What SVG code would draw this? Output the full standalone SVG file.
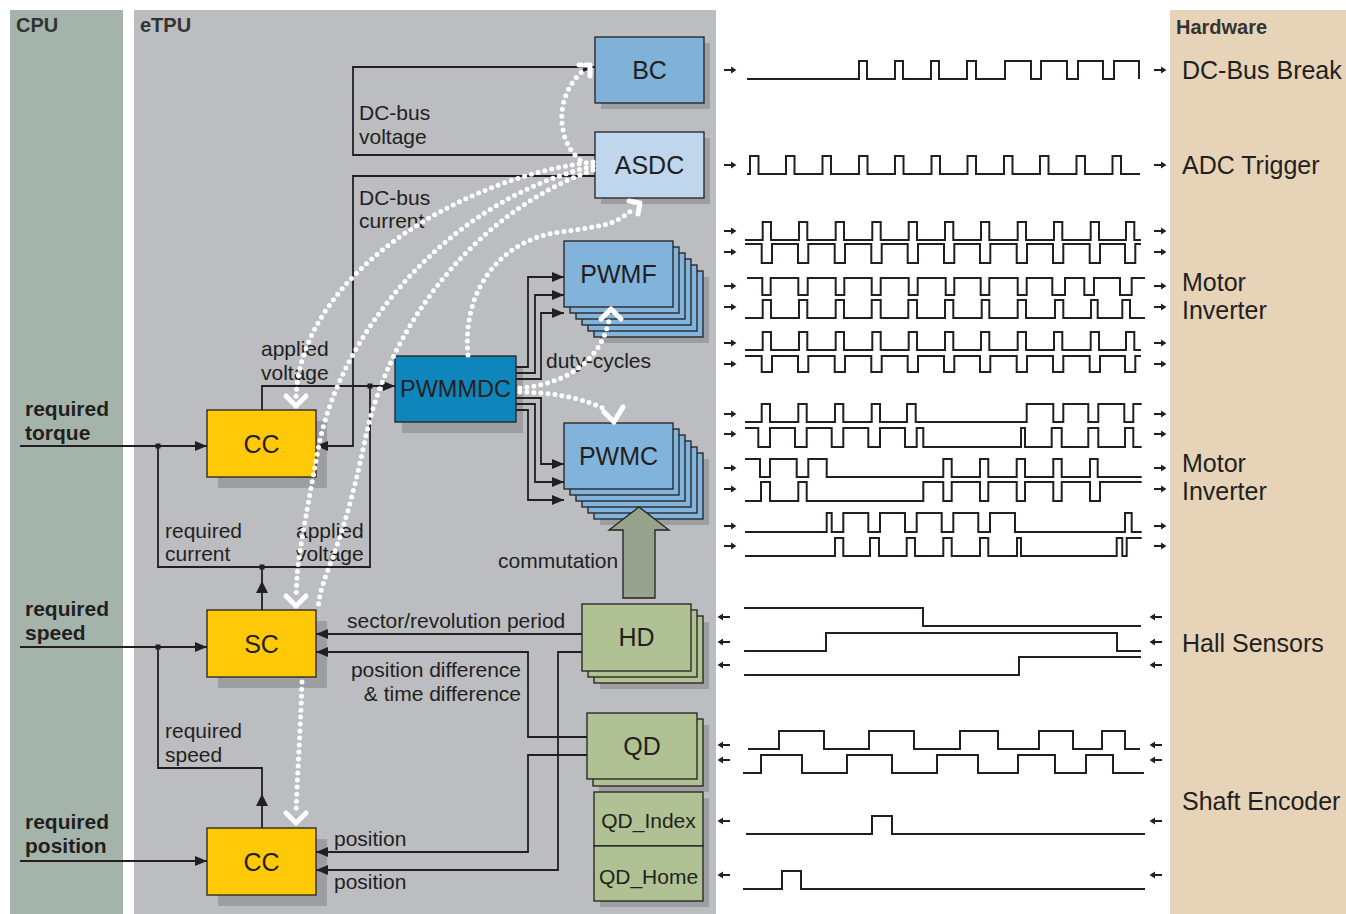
<svg xmlns="http://www.w3.org/2000/svg" xmlns:xlink="http://www.w3.org/1999/xlink" width="1346" height="914" viewBox="0 0 1346 914">
<style>
text{font-family:"Liberation Sans",Arial,sans-serif;fill:#231f20}
.hdr{font-size:20px;font-weight:bold;fill:#333}
.req{font-size:21px;font-weight:bold}
.lbl{font-size:21px}
.hw{font-size:25px}
.nt{font-size:25px;text-anchor:middle}
.ln{fill:none;stroke:#231f20;stroke-width:1.8}
.wv{fill:none;stroke:#231f20;stroke-width:2}
.sh{fill:#9d9ea2}
.bx{stroke:#231f20;stroke-width:1.3}
.blue{fill:#82b3da}
.yel{fill:#ffc907}
.grn{fill:#b0c293}
.dot{fill:none;stroke:#fff;stroke-width:5;stroke-linecap:round;stroke-dasharray:0 7}
.chev{fill:none;stroke:#fff;stroke-width:5;stroke-linecap:round;stroke-linejoin:round}
.sa{fill:#231f20}
</style>
<defs>
<marker id="ah" viewBox="0 0 12 10" refX="12" refY="5" markerWidth="12" markerHeight="10" markerUnits="userSpaceOnUse" orient="auto">
<path d="M0,0 L12,5 L0,10 Z" fill="#231f20"/>
</marker>
<path id="sar" class="sa" d="M-6,-1 H1 V-3.5 L6.5,0 L1,3.5 V1 H-6 Z"/>
<path id="sal" class="sa" d="M6,-1 H-1 V-3.5 L-6.5,0 L-1,3.5 V1 H6 Z"/>
</defs>

<!-- panels -->
<rect x="0" y="0" width="1346" height="914" fill="#fff"/>
<rect x="10" y="10" width="113" height="904" fill="#a5b4aa"/>
<rect x="134" y="10" width="582" height="904" fill="#bcbdc1"/>
<rect x="1170" y="10" width="176" height="904" fill="#e6d3b8"/>
<text class="hdr" x="16" y="32">CPU</text>
<text class="hdr" x="140" y="32">eTPU</text>
<text class="hdr" x="1176" y="34">Hardware</text>

<!-- CPU inputs labels -->
<g id="cpu-labels">
<text class="req" x="25" y="416">required</text>
<text class="req" x="25" y="440">torque</text>
<text class="req" x="25" y="616">required</text>
<text class="req" x="25" y="640">speed</text>
<text class="req" x="25" y="829">required</text>
<text class="req" x="25" y="853">position</text>
</g>

<!-- nodes -->
<g id="BC">
<rect class="sh" x="601" y="43" width="109" height="66"/>
<rect class="bx" x="595" y="37" width="109" height="66" fill="#80b1d9"/>
<text class="nt" x="649.5" y="79">BC</text>
</g>
<g id="ASDC">
<rect class="sh" x="601" y="138" width="109" height="66"/>
<rect class="bx" x="595" y="132" width="109" height="66" fill="#bfd6ec"/>
<text class="nt" x="649.5" y="174">ASDC</text>
</g>
<g id="PWMF">
<rect class="sh" x="600" y="277" width="109" height="66"/>
<rect class="bx blue" x="594" y="271" width="109" height="66"/>
<rect class="bx blue" x="588" y="265" width="109" height="66"/>
<rect class="bx blue" x="582" y="259" width="109" height="66"/>
<rect class="bx blue" x="576" y="253" width="109" height="66"/>
<rect class="bx blue" x="570" y="247" width="109" height="66"/>
<rect class="bx blue" x="564" y="241" width="109" height="66"/>
<text class="nt" x="618.5" y="283">PWMF</text>
</g>
<g id="PWMC">
<rect class="sh" x="600" y="459" width="109" height="66"/>
<rect class="bx blue" x="594" y="453" width="109" height="66"/>
<rect class="bx blue" x="588" y="447" width="109" height="66"/>
<rect class="bx blue" x="582" y="441" width="109" height="66"/>
<rect class="bx blue" x="576" y="435" width="109" height="66"/>
<rect class="bx blue" x="570" y="429" width="109" height="66"/>
<rect class="bx blue" x="564" y="423" width="109" height="66"/>
<text class="nt" x="618.5" y="465">PWMC</text>
</g>
<g id="PWMMDC">
<rect class="sh" x="402" y="367" width="121" height="66"/>
<rect class="bx" x="395" y="356" width="121" height="66" fill="#0f86bb"/>
<text class="nt" x="455.5" y="397" style="font-size:23.5px">PWMMDC</text>
</g>
<g id="CC1">
<rect class="sh" x="218" y="421" width="109" height="67"/>
<rect class="bx yel" x="207" y="410" width="109" height="67"/>
<text class="nt" x="261.5" y="453">CC</text>
</g>
<g id="SC">
<rect class="sh" x="218" y="621" width="109" height="67"/>
<rect class="bx yel" x="207" y="610" width="109" height="67"/>
<text class="nt" x="261.5" y="653">SC</text>
</g>
<g id="CC2">
<rect class="sh" x="218" y="839" width="109" height="67"/>
<rect class="bx yel" x="207" y="828" width="109" height="67"/>
<text class="nt" x="261.5" y="871">CC</text>
</g>
<g id="HD">
<rect class="sh" x="600" y="622" width="109" height="67"/>
<rect class="bx grn" x="594" y="616" width="109" height="67"/>
<rect class="bx grn" x="588" y="610" width="109" height="67"/>
<rect class="bx grn" x="582" y="604" width="109" height="67"/>
<text class="nt" x="636.5" y="646">HD</text>
</g>
<g id="QD">
<rect class="sh" x="599" y="725" width="110" height="67"/>
<rect class="bx grn" x="593" y="719" width="110" height="67"/>
<rect class="bx grn" x="587" y="713" width="110" height="66"/>
<text class="nt" x="642" y="755">QD</text>
</g>
<g id="QD_Index">
<rect class="sh" x="600" y="798" width="109" height="109"/>
<rect class="bx grn" x="594" y="792" width="109" height="54"/>
<text class="nt" x="648.5" y="828" style="font-size:21px">QD_Index</text>
</g>
<g id="QD_Home">
<rect class="bx grn" x="594" y="846" width="109" height="55"/>
<text class="nt" x="648.5" y="884" style="font-size:21px">QD_Home</text>
</g>

<!-- connectors -->
<g id="connectors">
<path class="ln" d="M595,155 H353 V67 H595" marker-end="url(#ah)"/>
<path class="ln" d="M595,176 H353 V446 H316" marker-end="url(#ah)"/>
<path class="ln" d="M262,410 V386 H395" marker-end="url(#ah)"/>
<path class="ln" d="M370,386 V567 H158 V446"/>
<path class="ln" d="M262,610 V567"/>
<polygon points="256,593 262,581 268,593" fill="#231f20"/>
<path class="ln" d="M20,446 H207" marker-end="url(#ah)"/>
<path class="ln" d="M20,647 H207" marker-end="url(#ah)"/>
<path class="ln" d="M158,647 V768 H262 V828"/>
<polygon points="256,806 262,794 268,806" fill="#231f20"/>
<path class="ln" d="M20,861 H207" marker-end="url(#ah)"/>
<rect x="155.5" y="443.5" width="5" height="5" fill="#231f20"/>
<rect x="367.5" y="383.5" width="5" height="5" fill="#231f20"/>
<rect x="259.5" y="564.5" width="5" height="5" fill="#231f20"/>
<rect x="155.5" y="644.5" width="5" height="5" fill="#231f20"/>
<path class="ln" d="M516,367 H528 V277 H564" marker-end="url(#ah)"/>
<path class="ln" d="M516,373 H535 V295 H564" marker-end="url(#ah)"/>
<path class="ln" d="M516,379 H541 V313 H564" marker-end="url(#ah)"/>
<path class="ln" d="M516,398 H541 V464 H564" marker-end="url(#ah)"/>
<path class="ln" d="M516,404 H535 V482 H564" marker-end="url(#ah)"/>
<path class="ln" d="M516,410 H528 V500 H564" marker-end="url(#ah)"/>
<path class="ln" d="M582,634 H316" marker-end="url(#ah)"/>
<path class="ln" d="M582,652 H558 V870 H316" marker-end="url(#ah)"/>
<path class="ln" d="M587,737 H528 V652 H316" marker-end="url(#ah)"/>
<path class="ln" d="M587,755 H528 V852 H316" marker-end="url(#ah)"/>
<polygon points="623,598 623,530 609,530 639,507 669,530 655,530 655,598" fill="#97a38d" stroke="#231f20" stroke-width="1.3"/>
</g>

<!-- connector labels -->
<g id="labels">
<text class="lbl" x="359" y="120">DC-bus</text>
<text class="lbl" x="359" y="144">voltage</text>
<text class="lbl" x="359" y="205">DC-bus</text>
<text class="lbl" x="359" y="228">current</text>
<text class="lbl" x="261" y="356">applied</text>
<text class="lbl" x="261" y="380">voltage</text>
<text class="lbl" x="546" y="368">duty-cycles</text>
<text class="lbl" x="165" y="538">required</text>
<text class="lbl" x="165" y="561">current</text>
<text class="lbl" x="296" y="538">applied</text>
<text class="lbl" x="296" y="561">voltage</text>
<text class="lbl" x="498" y="568">commutation</text>
<text class="lbl" x="347" y="628">sector/revolution period</text>
<text class="lbl" x="521" y="677" text-anchor="end">position difference</text>
<text class="lbl" x="521" y="701" text-anchor="end">&amp; time difference</text>
<text class="lbl" x="165" y="738">required</text>
<text class="lbl" x="165" y="762">speed</text>
<text class="lbl" x="334" y="846">position</text>
<text class="lbl" x="334" y="889">position</text>
</g>

<!-- dotted data-flow arrows -->
<g id="dataflow">
<path class="dot" d="M580,160 C556,140 554,95 584,70"/>
<path class="chev" d="M579,65 L590,65 L590,76"/>
<path class="dot" d="M593,162 C470,175 300,270 296,398"/>
<path class="chev" d="M286,396 L296,406 L306,396"/>
<path class="dot" d="M593,166 C450,200 340,330 318,450 S298,560 296,596"/>
<path class="chev" d="M286,596 L296,606 L306,596"/>
<path class="dot" d="M593,170 C480,210 390,320 365,440 S322,570 318,608"/>
<path class="dot" d="M302,682 C300,740 297,780 296,814"/>
<path class="chev" d="M286,813 L296,823 L306,813"/>
<path class="dot" d="M468,355 C462,290 500,240 560,232 S615,222 635,208"/>
<path class="chev" d="M629,201 L640,203 L638,214"/>
<path class="dot" d="M520,388 C560,385 600,365 609,320"/>
<path class="chev" d="M601,319 L611,309 L621,319"/>
<path class="dot" d="M520,392 C550,392 585,398 606,410"/>
<path class="chev" d="M604,412 L614,422 L623,407"/>
</g>

<!-- waveforms -->
<g id="waveforms">
<path class="wv" d="M747,79 H859 V61 H867 V79 H895 V61 H903 V79 H931 V61 H939 V79 H967 V61 H976 V79 H1005 V61 H1031 V79 H1041 V61 H1067 V79 H1078 V61 H1103 V79 H1114 V61 H1139 V79"/>
<path class="wv" d="M747,174 H750 V156 H758.5 V174 H786 V156 H794.5 V174 H822.5 V156 H831 V174 H859 V156 H867.5 V174 H895 V156 H903.5 V174 H931.5 V156 H940 V174 H967.5 V156 H976 V174 H1004 V156 H1012.5 V174 H1040 V156 H1048.5 V174 H1076.5 V156 H1085 V174 H1112.5 V156 H1121 V174 H1140"/>
<path class="wv" d="M745,240 H762.7 V222 H771 V240 H799 V222 H807.3 V240 H835.7 V222 H844 V240 H872.3 V222 H880.7 V240 H908.7 V222 H917 V240 H945 V222 H953.3 V240 H981 V222 H989.3 V240 H1017.7 V222 H1026 V240 H1054 V222 H1062.3 V240 H1090.7 V222 H1099 V240 H1126 V222 H1134.3 V240 H1141"/>
<path class="wv" d="M745,244 H761.7 V263 H772 V244 H798 V263 H808.3 V244 H834.7 V263 H845 V244 H871.3 V263 H881.7 V244 H907.7 V263 H918 V244 H944 V263 H954.3 V244 H980 V263 H990.3 V244 H1016.7 V263 H1027 V244 H1053 V263 H1063.3 V244 H1089.7 V263 H1100 V244 H1125 V263 H1135.3 V244 H1141"/>
<path class="wv" d="M747,278 H762.3 V295 H770.7 V278 H798.3 V295 H807.7 V278 H835.7 V295 H844.3 V278 H871.7 V295 H880.7 V278 H908.7 V295 H917.7 V278 H945.7 V295 H954.3 V278 H980.7 V295 H989.3 V278 H1017.7 V295 H1026.7 V278 H1052.3 V295 H1065 V278 H1084.3 V295 H1094 V278 H1120 V295 H1131.7 V278 H1145"/>
<path class="wv" d="M745,318 H762.7 V300 H771 V318 H799 V300 H807.3 V318 H835.7 V300 H844 V318 H871.7 V300 H880.7 V318 H908.3 V300 H917 V318 H945 V300 H953.3 V318 H981.7 V300 H989.3 V318 H1017.7 V300 H1026 V318 H1055 V300 H1063.3 V318 H1091 V300 H1097.7 V318 H1122.3 V300 H1130 V318 H1145"/>
<path class="wv" d="M745,350 H762.7 V332 H771 V350 H799 V332 H807.3 V350 H835.7 V332 H844 V350 H872.3 V332 H880.7 V350 H908.7 V332 H917 V350 H945 V332 H953.3 V350 H981 V332 H989.3 V350 H1017.7 V332 H1026 V350 H1054 V332 H1062.3 V350 H1090.7 V332 H1099 V350 H1126 V332 H1134.3 V350 H1141"/>
<path class="wv" d="M745,356 H761.7 V372 H772 V356 H798 V372 H808.3 V356 H834.7 V372 H845 V356 H871.3 V372 H881.7 V356 H907.7 V372 H918 V356 H944 V372 H954.3 V356 H980 V372 H990.3 V356 H1016.7 V372 H1027 V356 H1053 V372 H1063.3 V356 H1089.7 V372 H1100 V356 H1125 V372 H1135.3 V356 H1141"/>
<path class="wv" d="M745,422 H761.7 V404 H770 V422 H798.3 V404 H806.7 V422 H835 V404 H843.3 V422 H871.7 V404 H880 V422 H907 V404 H915.7 V422 H1026.7 V404 H1053.3 V422 H1063.3 V404 H1088.3 V422 H1098.3 V404 H1124.3 V422 H1133.3 V404 H1141.7"/>
<path class="wv" d="M745,428 H758.3 V447 H770 V428 H795 V447 H806.7 V428 H831.7 V447 H843.3 V428 H868.3 V447 H880 V428 H905 V447 H916.7 V428 H923.3 V447 H1021 V428 H1025 V447 H1051.7 V428 H1061.7 V447 H1088.3 V428 H1098.3 V447 H1125 V428 H1133.3 V447 H1141.7"/>
<path class="wv" d="M745,459 H760 V477 H770 V459 H796.7 V477 H808.3 V459 H826.7 V477 H943.3 V459 H951.7 V477 H980 V459 H988.3 V477 H1016.7 V459 H1025 V477 H1053.3 V459 H1061.7 V477 H1090 V459 H1097.7 V477 H1141.7"/>
<path class="wv" d="M745,501 H761 V482 H770 V501 H798.3 V482 H806.7 V501 H923.3 V482 H943.3 V501 H951.7 V482 H980 V501 H988.3 V482 H1016.7 V501 H1025 V482 H1053.3 V501 H1061.7 V482 H1090 V501 H1100 V482 H1141.7"/>
<path class="wv" d="M745,532 H826.7 V513 H831.7 V532 H843.3 V513 H868.3 V532 H880 V513 H905 V532 H916.7 V513 H941.7 V532 H953.3 V513 H978.3 V532 H990 V513 H1015 V532 H1125 V513 H1131.7 V532 H1141.7"/>
<path class="wv" d="M745,556 H835 V538 H843.3 V556 H870 V538 H879 V556 H906.7 V538 H915 V556 H943.3 V538 H951.7 V556 H980 V538 H988.3 V556 H1017 V538 H1021 V556 H1116.7 V538 H1122.3 V556 H1126.7 V538 H1141.7"/>
<path class="wv" d="M744,608 H923 V626 H1141"/>
<path class="wv" d="M744,651 H826 V633 H1117 V651 H1141"/>
<path class="wv" d="M744,675 H1019 V657 H1141"/>
<path class="wv" d="M748,749 H779 V731 H824 V749 H869 V731 H914 V749 H960 V731 H998 V749 H1039 V731 H1073 V749 H1102 V731 H1125 V749 H1140"/>
<path class="wv" d="M743,773 H761 V755 H802 V773 H847 V755 H892 V773 H937 V755 H978 V773 H1018 V755 H1055 V773 H1086 V755 H1113 V773 H1144"/>
<path class="wv" d="M746,834 H872 V816 H892 V834 H1145"/>
<path class="wv" d="M743,889 H782 V871 H801 V889 H1145"/>
</g>

<!-- signal direction arrows -->
<g id="signal-arrows">
<use href="#sar" x="730" y="70"/><use href="#sar" x="1160" y="70"/>
<use href="#sar" x="730" y="165"/><use href="#sar" x="1160" y="165"/>
<use href="#sar" x="730" y="231"/><use href="#sar" x="1160" y="231"/>
<use href="#sar" x="730" y="252"/><use href="#sar" x="1160" y="252"/>
<use href="#sar" x="730" y="286"/><use href="#sar" x="1160" y="286"/>
<use href="#sar" x="730" y="307"/><use href="#sar" x="1160" y="307"/>
<use href="#sar" x="730" y="343"/><use href="#sar" x="1160" y="343"/>
<use href="#sar" x="730" y="364"/><use href="#sar" x="1160" y="364"/>
<use href="#sar" x="730" y="414"/><use href="#sar" x="1160" y="414"/>
<use href="#sar" x="730" y="434"/><use href="#sar" x="1160" y="434"/>
<use href="#sar" x="730" y="468"/><use href="#sar" x="1160" y="468"/>
<use href="#sar" x="730" y="489"/><use href="#sar" x="1160" y="489"/>
<use href="#sar" x="730" y="526"/><use href="#sar" x="1160" y="526"/>
<use href="#sar" x="730" y="546"/><use href="#sar" x="1160" y="546"/>
<use href="#sal" x="724" y="617"/><use href="#sal" x="1156" y="617"/>
<use href="#sal" x="724" y="642"/><use href="#sal" x="1156" y="642"/>
<use href="#sal" x="724" y="665"/><use href="#sal" x="1156" y="665"/>
<use href="#sal" x="724" y="745"/><use href="#sal" x="1156" y="745"/>
<use href="#sal" x="724" y="760"/><use href="#sal" x="1156" y="760"/>
<use href="#sal" x="724" y="821"/><use href="#sal" x="1156" y="821"/>
<use href="#sal" x="724" y="875"/><use href="#sal" x="1156" y="875"/>
</g>

<!-- hardware labels -->
<g id="hardware">
<text class="hw" x="1182" y="79">DC-Bus Break</text>
<text class="hw" x="1182" y="174">ADC Trigger</text>
<text class="hw" x="1182" y="291">Motor</text>
<text class="hw" x="1182" y="319">Inverter</text>
<text class="hw" x="1182" y="472">Motor</text>
<text class="hw" x="1182" y="500">Inverter</text>
<text class="hw" x="1182" y="652">Hall Sensors</text>
<text class="hw" x="1182" y="810">Shaft Encoder</text>
</g>
</svg>
